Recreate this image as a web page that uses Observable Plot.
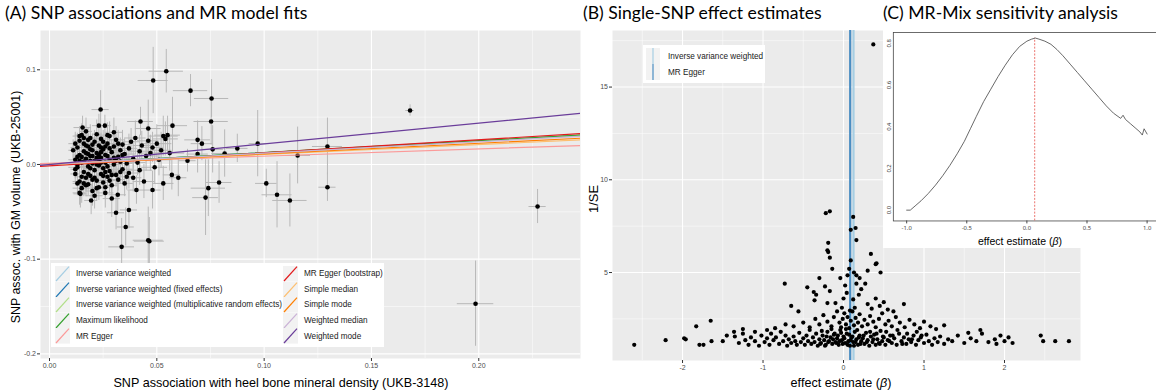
<!DOCTYPE html>
<html><head><meta charset="utf-8">
<script src="https://cdn.jsdelivr.net/npm/d3@7"></script>
<script src="https://cdn.jsdelivr.net/npm/@observablehq/plot@0.6"></script>
<style>
body{margin:0;background:#fff;overflow:hidden}
#wrap{position:relative;width:1156px;height:390px;overflow:hidden;background:#fff;font-family:"Liberation Sans",Arial,sans-serif}
.pl{position:absolute;top:0}
.title{position:absolute;font-family:Lato,"Open Sans",sans-serif;font-size:17.6px;color:#000;white-space:nowrap;top:2px;line-height:22px}
.lab{position:absolute;white-space:nowrap;transform:translate(-50%,-50%);color:#000;line-height:1}
.leg{position:absolute;background:#fff;font-size:8.2px;color:#1a1a1a}
.row{position:absolute;height:15.6px;display:flex;align-items:center;white-space:nowrap}
.row svg{margin-right:6px;display:block}
</style></head><body><div id="wrap"></div>
<script>
// ---------- Panel A data: SNP associations ----------
const bx = [
0.012,0.012,0.013,0.013,0.014,0.014,0.014,0.015,0.015,0.015,
0.016,0.016,0.016,0.017,0.017,0.017,0.018,0.018,0.018,0.019,
0.019,0.019,0.020,0.020,0.020,0.021,0.021,0.021,0.022,0.022,
0.022,0.023,0.023,0.023,0.024,0.024,0.024,0.025,0.025,0.025,
0.026,0.026,0.026,0.027,0.027,0.028,0.028,0.028,0.029,0.029,
0.030,0.030,0.031,0.031,0.032,0.032,0.033,0.033,0.034,0.034,
0.035,0.035,0.036,0.037,0.037,0.038,0.039,0.039,0.040,0.041,
0.042,0.042,0.043,0.044,0.045,0.046,0.047,0.048,0.049,0.050,
0.051,0.052,0.053,0.054,0.055,0.056,0.013,0.016,0.019,0.022,
0.020,0.017,0.015,0.024,0.027,0.018,0.014,0.021,0.026,0.030,
0.0544,0.0483,0.0657,0.0755,0.0238,0.0424,0.0753,0.0154,0.023,0.0258,
0.0573,0.046,0.168,0.2274,0.1985,0.097,0.101,0.106,0.112,0.1156,
0.1295,0.1295,0.079,0.074,0.0727,0.0816,0.076,0.069,0.0643,0.060,
0.069,0.071,0.031,0.0355,0.037,0.0336,0.046,0.0194,0.029,0.0318,
0.048,0.0405,0.053,0.057,0.0144,0.0465,0.0875,
0.011,0.012,0.013,0.014,0.015,0.016,0.017,0.018,0.019,0.020,
0.021,0.022,0.023,0.024,0.025,0.026,0.027,0.028,0.029,0.031,
0.032,0.033,0.034,0.036,0.012,0.014,0.016,0.018,0.020,0.022,
0.024,0.026,0.028,0.030,0.013,0.017,0.019,0.023,0.025,0.027];
const by = [
0.005,-0.010,0.018,-0.003,0.025,0.010,-0.018,0.002,-0.025,0.031,
0.014,-0.008,0.022,-0.014,0.006,0.035,-0.002,0.019,-0.021,0.009,
0.028,-0.012,0.001,-0.028,0.015,0.024,-0.006,0.004,-0.017,0.012,
0.032,-0.001,0.020,-0.024,0.007,-0.010,0.027,-0.004,0.016,-0.019,
0.010,0.002,-0.030,0.022,-0.013,0.005,0.030,-0.007,0.013,-0.022,
0.000,0.019,-0.011,0.026,0.008,-0.016,0.003,0.015,-0.005,0.021,
-0.020,0.011,0.001,0.017,-0.009,0.024,0.006,-0.014,0.028,0.002,
-0.006,0.014,0.020,-0.018,0.009,0.025,0.012,0.018,-0.003,0.022,
0.005,0.015,0.030,0.027,0.031,0.012,0.000,0.003,-0.004,0.007,
0.009,0.012,-0.013,0.002,-0.002,0.026,-0.030,-0.033,-0.024,0.034,
0.0985,0.0887,0.078,0.0697,0.058,0.0454,0.0454,0.039,0.041,0.041,
0.041,0.038,0.057,-0.0444,-0.147,0.022,-0.020,-0.032,-0.038,0.0095,
0.019,-0.024,-0.019,-0.025,-0.035,0.0116,0.016,0.011,0.004,-0.014,
0.026,0.022,-0.051,-0.066,-0.048,-0.087,-0.080,-0.038,-0.036,-0.032,
-0.027,-0.027,-0.020,-0.011,-0.031,-0.081,0.017,
0.015,0.022,-0.020,0.030,0.008,-0.020,0.020,-0.010,0.016,0.021,
-0.014,0.000,0.010,0.018,0.024,-0.008,0.009,0.017,-0.011,0.004,
0.022,-0.008,0.010,-0.013,-0.005,0.004,0.028,0.011,-0.016,-0.025,
0.013,0.019,-0.017,0.007,0.008,-0.022,0.004,0.005,-0.012,0.031];
const seX = [
0.003,0.002,0.003,0.004,0.002,0.003,0.003,0.002,0.004,0.003,
0.003,0.002,0.004,0.003,0.002,0.003,0.004,0.003,0.002,0.003,
0.004,0.003,0.002,0.003,0.003,0.004,0.002,0.003,0.003,0.004,
0.002,0.003,0.004,0.003,0.003,0.002,0.004,0.003,0.003,0.004,
0.003,0.002,0.004,0.003,0.003,0.004,0.003,0.002,0.004,0.003,
0.004,0.003,0.003,0.004,0.005,0.003,0.004,0.003,0.005,0.004,
0.004,0.005,0.003,0.004,0.005,0.004,0.005,0.004,0.005,0.004,
0.006,0.005,0.004,0.005,0.006,0.005,0.006,0.005,0.006,0.007,
0.006,0.005,0.007,0.006,0.006,0.007,0.002,0.003,0.003,0.002,
0.003,0.002,0.003,0.003,0.002,0.003,0.003,0.004,0.003,0.004,
0.008,0.007,0.008,0.008,0.004,0.006,0.008,0.004,0.003,0.003,
0.007,0.006,0.002,0.004,0.0085,0.004,0.005,0.007,0.008,0.006,
0.007,0.004,0.006,0.008,0.006,0.006,0.005,0.005,0.004,0.004,
0.006,0.005,0.004,0.004,0.004,0.006,0.007,0.003,0.004,0.004,
0.004,0.004,0.005,0.004,0.003,0.007,0.005,
0.002,0.003,0.002,0.003,0.002,0.003,0.003,0.002,0.003,0.003,
0.002,0.003,0.003,0.004,0.003,0.002,0.003,0.004,0.003,0.004,
0.003,0.004,0.003,0.004,0.002,0.002,0.003,0.003,0.002,0.003,
0.003,0.003,0.004,0.003,0.002,0.003,0.002,0.003,0.003,0.004];
const seY = [
0.012,0.010,0.015,0.011,0.013,0.009,0.014,0.010,0.016,0.012,
0.011,0.013,0.010,0.015,0.012,0.014,0.011,0.013,0.012,0.010,
0.014,0.012,0.011,0.016,0.013,0.012,0.010,0.014,0.013,0.011,
0.015,0.012,0.013,0.014,0.011,0.012,0.015,0.010,0.013,0.014,
0.012,0.011,0.016,0.013,0.012,0.014,0.015,0.011,0.013,0.014,
0.012,0.016,0.013,0.014,0.015,0.012,0.014,0.013,0.016,0.015,
0.014,0.016,0.013,0.015,0.017,0.014,0.016,0.015,0.018,0.014,
0.016,0.017,0.015,0.018,0.016,0.017,0.019,0.016,0.018,0.020,
0.017,0.019,0.021,0.018,0.020,0.019,0.010,0.011,0.012,0.010,
0.011,0.010,0.012,0.011,0.012,0.013,0.013,0.014,0.012,0.015,
0.023,0.035,0.017,0.020,0.020,0.015,0.025,0.012,0.012,0.011,
0.030,0.030,0.006,0.018,0.045,0.035,0.015,0.035,0.028,0.030,
0.030,0.015,0.022,0.030,0.040,0.025,0.025,0.020,0.012,0.020,
0.020,0.018,0.018,0.020,0.020,0.030,0.035,0.015,0.020,0.018,
0.020,0.015,0.018,0.016,0.015,0.025,0.015,
0.011,0.012,0.013,0.010,0.012,0.014,0.011,0.013,0.012,0.011,
0.014,0.012,0.013,0.015,0.012,0.013,0.014,0.012,0.015,0.013,
0.014,0.013,0.015,0.014,0.010,0.011,0.012,0.013,0.012,0.014,
0.013,0.012,0.014,0.015,0.011,0.012,0.013,0.012,0.014,0.013];

// MR model fits
const methods = ["Inverse variance weighted","Inverse variance weighted (fixed effects)","Inverse variance weighted (multiplicative random effects)","Maximum likelihood","MR Egger","MR Egger (bootstrap)","Simple median","Simple mode","Weighted median","Weighted mode"];
const methodColors = ["#A6CEE3","#1F78B4","#B2DF8A","#33A02C","#FB9A99","#E31A1C","#FDBF6F","#FF7F00","#CAB2D6","#6A3D9A"];
const intercepts = [0,0,0,0,0.0012,-0.0015,0,0,0,0];
const slopes = [0.124,0.124,0.124,0.126,0.076,0.138,0.105,0.112,0.120,0.218];

const xTicksA = [0,0.05,0.1,0.15,0.2], xMinorA = [0.025,0.075,0.125,0.175,0.225];
const yTicksA = [-0.2,-0.1,0,0.1], yMinorA = [-0.15,-0.05,0.05];

// ---------- Panel B data: single-SNP estimates ----------
const bEst = [
-1.35,-1.3,-1.25,-1.22,-1.18,-1.15,-1.1,-1.05,-1.02,-0.98,-0.95,-0.92,-0.9,-0.87,-0.84,-0.8,-0.78,-0.75,-0.72,-0.7,
-0.68,-0.65,-0.62,-0.6,-0.58,-0.55,-0.53,-0.5,-0.48,-0.46,-0.44,-0.42,-0.4,-0.38,-0.36,-0.34,-0.32,-0.3,-0.28,-0.26,
-0.24,-0.22,-0.2,-0.18,-0.16,-0.14,-0.12,-0.1,-0.08,-0.06,-0.04,-0.02,0.0,0.02,0.04,0.06,0.08,0.1,0.12,0.14,
0.16,0.18,0.2,0.22,0.24,0.26,0.28,0.3,0.32,0.34,0.36,0.38,0.4,0.42,0.44,0.46,0.48,0.5,0.52,0.55,
0.58,0.6,0.63,0.66,0.69,0.72,0.75,0.78,0.81,0.84,0.87,0.9,0.93,0.96,1.0,1.03,1.06,1.1,1.13,1.17,
1.2,1.25,1.3,1.35,1.42,1.5,1.58,1.65,1.72,1.8,1.88,1.95,
-0.29,-0.27,-0.23,-0.21,-0.19,-0.15,-0.13,-0.11,-0.09,-0.07,-0.05,-0.03,-0.01,0.01,0.03,0.05,0.07,0.09,0.11,0.13,
0.15,0.17,0.19,0.21,0.25,0.29,0.33,0.37,0.41,0.45,0.49,0.53,0.57,0.61,0.67,0.73,0.79,0.85,0.91,0.97,
-1.25,-1.1,-0.95,-0.85,-0.72,-0.62,-0.5,-0.42,-0.35,-0.3,-0.25,-0.2,-0.15,-0.12,-0.08,-0.05,-0.03,-0.01,0.01,0.03,
0.05,0.07,0.09,0.11,0.13,0.15,0.18,0.2,0.23,0.26,0.3,0.33,0.37,0.4,0.44,0.48,0.52,0.56,0.6,0.65,
0.7,0.76,0.82,0.88,0.95,1.0,1.08,1.15,1.25,
-0.65,-0.56,-0.45,-0.37,-0.34,-0.36,-0.3,-0.23,-0.2,-0.17,-0.1,-0.04,0.05,0.02,0.0,-0.02,0.04,0.16,0.2,0.16,
0.22,0.19,0.27,0.14,0.3,0.35,0.45,0.55,0.62,0.75,0.4,0.5,0.12,0.08,-0.73,
-0.22,-0.17,0.12,0.09,0.15,0.16,-0.19,-0.2,-0.19,-0.17,0.34,0.09,-0.14,0.07,0.13,0.4,0.41,0.3,0.46,0.37,
-1.65,-1.83,-1.98,-1.96,-2.21,-2.6,-1.79,-1.74,-1.64,-1.36,-1.5,-1.45,
2.0,2.05,2.45,2.48,2.63,2.8,1.7,1.55,2.1,1.9];
const bInv = [
1.55,1.2,1.7,1.35,1.1,1.5,1.3,1.05,1.6,1.25,1.45,1.1,1.7,1.35,1.5,1.15,1.8,1.3,1.6,1.05,
1.4,1.2,1.55,1.3,1.1,1.75,1.25,1.45,1.1,1.6,1.3,1.9,1.15,1.5,1.25,1.7,1.05,1.4,1.2,1.6,
1.35,1.1,1.8,1.3,1.5,1.15,1.65,1.25,1.45,1.1,1.9,1.35,1.55,1.2,1.7,1.3,1.05,1.5,1.25,1.8,
1.4,1.1,1.6,1.3,1.45,1.15,1.75,1.35,1.05,1.55,1.25,1.65,1.1,1.4,1.2,1.85,1.3,1.5,1.1,1.35,
1.6,1.2,1.45,1.1,1.7,1.3,1.5,1.15,1.4,1.25,1.6,1.1,1.35,1.5,1.2,1.65,1.3,1.1,1.45,1.25,
1.55,1.15,1.4,1.3,1.6,1.2,1.45,1.3,1.7,1.25,1.4,1.6,
1.15,1.85,1.05,1.55,1.25,1.95,1.4,1.7,1.2,1.6,1.3,1.75,1.15,1.45,1.95,1.1,1.65,1.35,1.55,1.05,
1.25,1.9,1.5,1.15,1.6,1.25,1.8,1.4,1.7,1.15,1.55,1.8,1.3,1.6,1.9,1.15,1.7,1.4,1.8,1.6,
1.95,1.8,1.9,2.0,2.2,2.1,2.3,2.05,2.5,2.2,2.7,2.35,2.1,2.6,2.9,2.3,2.05,2.5,2.8,2.2,
2.6,2.0,2.4,2.9,2.15,2.55,2.3,2.75,2.1,2.45,2.2,2.65,2.35,2.05,2.5,2.8,2.2,2.4,2.1,2.6,
2.3,2.05,2.45,2.2,2.0,2.35,2.1,1.95,2.15,
3.2,2.9,4.2,3.95,3.8,3.5,4.7,4.25,3.35,4.0,3.35,4.7,4.85,4.3,3.6,3.1,3.9,4.85,4.7,4.4,
4.1,3.8,4.4,3.1,3.3,3.05,3.2,3.0,2.9,3.3,3.6,3.4,3.55,2.95,4.4,
8.2,8.3,8.0,7.3,7.4,6.75,6.6,6.2,6.1,5.8,6.0,5.65,5.2,5.2,5.0,5.45,5.5,5.1,5.0,17.3,
2.4,2.1,1.45,1.4,1.35,1.1,1.1,1.1,1.3,1.8,1.3,1.6,
1.3,1.5,1.6,1.3,1.3,1.3,1.9,1.75,1.2,1.15];
const ivwEst = 0.124, eggerEst = 0.083;
const xTicksB = [-2,-1,0,1,2], xMinorB = [-2.5,-1.5,-0.5,0.5,1.5,2.5];
const yTicksB = [5,10,15], yMinorB = [2.5,7.5,12.5,17.5];

// ---------- Panel C data: MR-Mix sensitivity curve ----------
const cBeta = [-1.0,-0.97,-0.93,-0.88,-0.82,-0.76,-0.70,-0.64,-0.58,-0.52,-0.47,-0.42,-0.36,-0.30,-0.24,-0.18,-0.12,-0.06,0.0,0.04,0.07,0.10,0.15,0.20,0.25,0.30,0.36,0.42,0.48,0.54,0.60,0.66,0.72,0.78,0.80,0.82,0.86,0.90,0.94,0.96,0.975,0.99,1.0];
const cVal  = [0.0,0.0,0.02,0.045,0.08,0.12,0.165,0.215,0.27,0.33,0.39,0.45,0.52,0.58,0.64,0.695,0.745,0.785,0.81,0.82,0.825,0.82,0.81,0.795,0.77,0.74,0.70,0.66,0.62,0.58,0.54,0.50,0.465,0.44,0.455,0.435,0.415,0.395,0.375,0.36,0.39,0.375,0.365];
const mixEst = 0.065;
const xTicksC = [-1,-0.5,0,0.5,1], yTicksC = [0,0.2,0.4,0.6,0.8];

// ---------- build ----------
const wrap = document.getElementById("wrap");
const axisStyle = {fontSize:7, tickSize:3, tickPadding:1.5, stroke:"#333", fill:"#4D4D4D", label:null};
const baseStyle = {fontFamily:"Liberation Sans, Arial, sans-serif", background:"transparent", overflow:"visible"};

// Panel A
const xDomA = [-0.0042, 0.2474], yDomA = [-0.2049, 0.1415];
const ptsA = bx.map((x,i)=>({x, y:by[i], sx:seX[i], sy:seY[i]}));
const plotA = Plot.plot({
  width:585, height:390, marginTop:30, marginBottom:32, marginLeft:40, marginRight:5,
  x:{domain:xDomA}, y:{domain:yDomA}, style:baseStyle,
  marks:[
    Plot.frame({fill:"#EBEBEB", stroke:null}),
    Plot.ruleX(xMinorA, {stroke:"#fff", strokeWidth:0.5}),
    Plot.ruleY(yMinorA, {stroke:"#fff", strokeWidth:0.5}),
    Plot.ruleX(xTicksA, {stroke:"#fff", strokeWidth:1.1}),
    Plot.ruleY(yTicksA, {stroke:"#fff", strokeWidth:1.1}),
    Plot.ruleY(ptsA, {y:"y", x1:d=>d.x-d.sx, x2:d=>d.x+d.sx, stroke:"#B8B8B8", strokeWidth:1, clip:true}),
    Plot.ruleX(ptsA, {x:"x", y1:d=>d.y-d.sy, y2:d=>d.y+d.sy, stroke:"#B8B8B8", strokeWidth:1, clip:true}),
    Plot.dot(ptsA, {x:"x", y:"y", r:2.3, fill:"#000", stroke:null}),
    ...methods.map((m,i)=>Plot.line(xDomA.map(x=>({x, y:intercepts[i]+slopes[i]*x})), {x:"x", y:"y", stroke:methodColors[i], strokeWidth:1.2, clip:true})),
    Plot.axisX(xTicksA, {...axisStyle, tickFormat:d=>d.toFixed(2)}),
    Plot.axisY(yTicksA, {...axisStyle, tickFormat:d=>d.toFixed(1)})
  ]
});
plotA.classList.add("pl"); plotA.style.left="0px";
wrap.appendChild(plotA);

// Panel B
const xDomB = [-2.87, 2.944], yDomB = [0.256, 18.05];
const ptsB = bEst.map((x,i)=>({x, y:bInv[i]}));
const plotB = Plot.plot({
  width:505, height:390, marginTop:30, marginBottom:30, marginLeft:32, marginRight:5,
  x:{domain:xDomB}, y:{domain:yDomB}, style:baseStyle,
  marks:[
    Plot.frame({fill:"#EBEBEB", stroke:null}),
    Plot.ruleX(xMinorB, {stroke:"#fff", strokeWidth:0.5}),
    Plot.ruleY(yMinorB, {stroke:"#fff", strokeWidth:0.5}),
    Plot.ruleX(xTicksB, {stroke:"#fff", strokeWidth:1.1}),
    Plot.ruleY(yTicksB, {stroke:"#fff", strokeWidth:1.1}),
    Plot.ruleX([ivwEst], {stroke:"#A6CEE3", strokeWidth:2.2}),
    Plot.ruleX([eggerEst], {stroke:"#4A8DC2", strokeWidth:2.2}),
    Plot.dot(ptsB, {x:"x", y:"y", r:2.1, fill:"#000", stroke:null}),
    Plot.axisX(xTicksB, {...axisStyle, tickFormat:d=>String(d)}),
    Plot.axisY(yTicksB, {...axisStyle, tickFormat:d=>String(d)})
  ]
});
plotB.classList.add("pl"); plotB.style.left="580px";
wrap.appendChild(plotB);

// Panel C (inset, white box)
const cBox = document.createElement("div");
cBox.style.cssText = "position:absolute;left:883px;top:28px;width:273px;height:220px;background:#fff;overflow:hidden";
wrap.appendChild(cBox);
const yDomC = [-0.0518, 0.852];
const curve = cBeta.map((x,i)=>({x, y:cVal[i]}));
const peak = d3.max(cVal);
const plotC = Plot.plot({
  width:278, height:220, marginTop:4, marginBottom:24, marginLeft:10, marginRight:0,
  x:{domain:[-1.111, 1.078]}, y:{domain:yDomC}, style:baseStyle,
  marks:[
    Plot.frame({stroke:"#444", strokeWidth:0.8}),
    Plot.ruleX([mixEst], {y1:yDomC[0], y2:peak, stroke:"#E8605A", strokeWidth:0.9, strokeDasharray:"2,1.5"}),
    Plot.line(curve, {x:"x", y:"y", stroke:"#555", strokeWidth:0.9}),
    Plot.axisX(xTicksC, {fontSize:6, tickSize:3, tickPadding:2, stroke:"#444", fill:"#444", label:null, tickFormat:d=>d.toFixed(1)}),
    Plot.axisY(yTicksC, {fontSize:6, tickSize:0, tickPadding:2, stroke:"#444", fill:"#444", label:null, tickRotate:-90, tickFormat:d=>d.toFixed(1)})
  ]
});
plotC.style.cssText = "position:absolute;left:0;top:0";
cBox.appendChild(plotC);

// ---------- HTML text: titles, axis titles, legends ----------
function addDiv(cls, css, html){ const d=document.createElement("div"); d.className=cls; d.style.cssText=css; d.innerHTML=html; wrap.appendChild(d); return d; }
addDiv("title","left:5px","(A) SNP associations and MR model fits");
addDiv("title","left:583px","(B) Single-SNP effect estimates");
addDiv("title","left:883px","(C) MR-Mix sensitivity analysis");
addDiv("lab","left:281px;top:383px;font-size:12.6px","SNP association with heel bone mineral density (UKB-3148)");
addDiv("lab","left:16px;top:207px;font-size:12.4px;transform:translate(-50%,-50%) rotate(-90deg)","SNP assoc. with GM volume (UKB-25001)");
addDiv("lab","left:841px;top:383px;font-size:12.6px","effect estimate (<i>β</i>)");
addDiv("lab","left:593px;top:199px;font-size:13px;transform:translate(-50%,-50%) rotate(-90deg)","1/SE");
addDiv("lab","left:1020px;top:241px;font-size:10.5px","effect estimate (<i>β</i>)");

// Legend A
const legA = addDiv("leg","left:51px;top:263px;width:333px;height:84px","");
methods.forEach((m,i)=>{
  const col = i<5?0:1, r = i%5;
  const row = document.createElement("div"); row.className="row";
  row.style.left = (col===0?4:232)+"px"; row.style.top = (3+r*15.6)+"px";
  row.innerHTML = `<svg width="15" height="15.6"><rect width="15" height="15.6" fill="#F2F2F2"/><line x1="1" y1="15" x2="14" y2="0.6" stroke="${methodColors[i]}" stroke-width="1.2"/></svg><span>${m}</span>`;
  legA.appendChild(row);
});
// Legend B
const legB = addDiv("leg","left:643px;top:45px;width:122px;height:38px","");
[["Inverse variance weighted","#A6CEE3"],["MR Egger","#4A8DC2"]].forEach(([m,c],r)=>{
  const row = document.createElement("div"); row.className="row";
  row.style.left="3px"; row.style.top=(3+r*16)+"px"; row.style.height="16px";
  row.innerHTML = `<svg width="14" height="16"><rect width="14" height="16" fill="#F2F2F2"/><line x1="7" y1="0" x2="7" y2="16" stroke="${c}" stroke-width="1.2"/></svg><span style="margin-left:2px">${m}</span>`;
  legB.appendChild(row);
});
</script></body></html>
